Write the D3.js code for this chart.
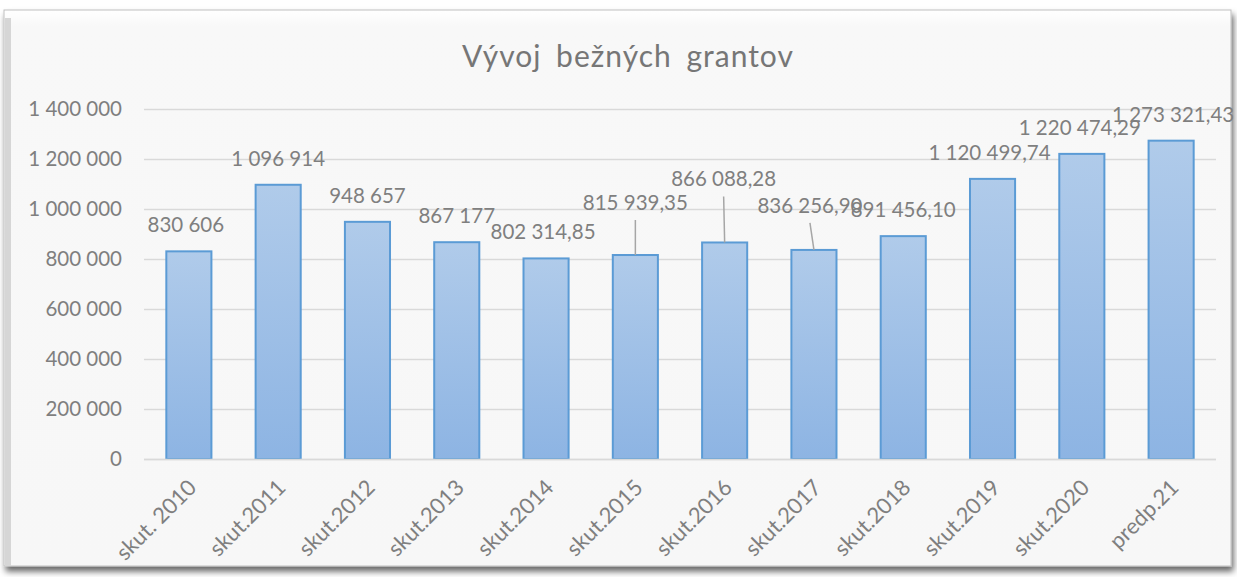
<!DOCTYPE html>
<html>
<head>
<meta charset="utf-8">
<script src="https://cdn.jsdelivr.net/npm/d3@7"></script>
<style>
  html, body { margin: 0; padding: 0; background: #ffffff; }
  svg { display: block; }
  text { font-family: Lato, "Liberation Sans", sans-serif; }
</style>
</head>
<body>
<div id="chart"></div>
<script>
// chart data
const title = "Vývoj bežných grantov";
const categories = ["skut. 2010", "skut.2011", "skut.2012", "skut.2013", "skut.2014", "skut.2015",
    "skut.2016", "skut.2017", "skut.2018", "skut.2019", "skut.2020", "predp.21"];
const values = [830606, 1096914, 948657, 867177, 802314.85, 815939.35,
    866088.28, 836256.90, 891456.10, 1120499.74, 1220474.29, 1273321.43];
const decimals = [0, 0, 0, 0, 2, 2, 2, 2, 2, 2, 2, 2];
const yTicks = [0, 200000, 400000, 600000, 800000, 1000000, 1200000, 1400000];

// label nudges (pixels) for the labels Excel moved by hand
const labelDy = [0, 0, 0, 0, 0, -26, -37, -18, 0, 0, 0, 0];
const labelDx = [-3, 0, 0, 0, -3, 0, -1, -4, 0, -3, -2, 2];

const W = 1237, H = 577;
const margin = {top: 109, right: 21, bottom: 118, left: 144};
const width = W - margin.left - margin.right,
    height = H - margin.top - margin.bottom;

const sk = d3.formatLocale({decimal: ",", thousands: "\u00a0", grouping: [3], currency: ["", " €"]});

const svg = d3.select("#chart")
    .append("svg")
    .attr("width", W)
    .attr("height", H);

const defs = svg.append("defs");
const grad = defs.append("linearGradient")
    .attr("id", "barFill")
    .attr("x1", 0).attr("y1", 0).attr("x2", 0).attr("y2", 1);
grad.append("stop").attr("offset", "0%").attr("stop-color", "#b0cbea");
grad.append("stop").attr("offset", "100%").attr("stop-color", "#8db4e3");

const bg = defs.append("linearGradient")
    .attr("id", "bgFill")
    .attr("x1", 0).attr("y1", 0).attr("x2", 0).attr("y2", 1);
bg.append("stop").attr("offset", "0%").attr("stop-color", "#ffffff");
bg.append("stop").attr("offset", "3%").attr("stop-color", "#f8f8f8");
bg.append("stop").attr("offset", "100%").attr("stop-color", "#f7f7f7");

const shadow = defs.append("filter").attr("id", "shadow")
    .attr("x", "-2%").attr("y", "-2%").attr("width", "104%").attr("height", "106%");
shadow.append("feDropShadow")
    .attr("dx", 2).attr("dy", 5).attr("stdDeviation", 3)
    .attr("flood-color", "#000").attr("flood-opacity", 0.6);

// chart frame
svg.append("rect")
    .attr("x", 4).attr("y", 10)
    .attr("width", 1227).attr("height", 556)
    .attr("fill", "url(#bgFill)")
    .attr("stroke", "#bfbfbf")
    .attr("stroke-width", 1)
    .attr("filter", "url(#shadow)");
svg.append("rect")
    .attr("x", 5).attr("y", 18)
    .attr("width", 6).attr("height", 548)
    .attr("fill", "#d6d6d6");

const g = svg.append("g")
    .attr("transform", `translate(${margin.left},${margin.top})`);

const x = d3.scaleBand()
    .domain(categories)
    .range([0, width])
    .paddingInner(0.495)
    .paddingOuter(0.25);

const y = d3.scaleLinear()
    .domain([0, 1400000])
    .range([height, 0]);

// gridlines
g.selectAll(".grid")
    .data(yTicks)
    .join("line")
    .attr("x1", 0).attr("x2", width)
    .attr("y1", d => Math.round(y(d)) + 0.5)
    .attr("y2", d => Math.round(y(d)) + 0.5)
    .attr("stroke", "#d9d9d9")
    .attr("stroke-width", 1.5);

// y axis labels
const yAxis = g.append("g")
    .call(d3.axisLeft(y).tickValues(yTicks).tickSize(0).tickPadding(22)
        .tickFormat(d => sk.format(",.0f")(d)));
yAxis.select(".domain").remove();
yAxis.selectAll("text")
    .attr("fill", "#7f7f7f")
    .style("font-size", "20.5px")
    .style("font-family", "Lato, sans-serif");

// bars
g.selectAll(".bar")
    .data(values)
    .join("rect")
    .attr("class", "bar")
    .attr("x", (d, i) => x(categories[i]))
    .attr("y", d => y(d))
    .attr("width", x.bandwidth())
    .attr("height", d => height - y(d))
    .attr("fill", "url(#barFill)")
    .attr("stroke", "#5b9bd5")
    .attr("stroke-width", 2);

// x axis line
g.append("line")
    .attr("x1", 0).attr("x2", width)
    .attr("y1", height + 0.5).attr("y2", height + 0.5)
    .attr("stroke", "#d9d9d9")
    .attr("stroke-width", 1.5);

// x axis labels
g.selectAll(".xlab")
    .data(categories)
    .join("text")
    .attr("class", "xlab")
    .attr("transform", d => `translate(${x(d) + x.bandwidth() / 2 - 2},${height + 19}) rotate(-45)`)
    .attr("text-anchor", "end")
    .attr("dy", "0.7em")
    .attr("fill", "#7f7f7f")
    .style("font-size", "22px")
    .text(d => d);

// leader lines
g.selectAll(".leader")
    .data(values.map((v, i) => ({v, i})).filter(d => labelDy[d.i] < 0))
    .join("line")
    .attr("x1", d => x(categories[d.i]) + x.bandwidth() / 2 + labelDx[d.i])
    .attr("x2", d => x(categories[d.i]) + x.bandwidth() / 2)
    .attr("y1", d => y(d.v) - 19 + labelDy[d.i] + 10)
    .attr("y2", d => y(d.v))
    .attr("stroke", "#a6a6a6")
    .attr("stroke-width", 1.5);

// data labels
g.selectAll(".vlab")
    .data(values)
    .join("text")
    .attr("class", "vlab")
    .attr("x", (d, i) => x(categories[i]) + x.bandwidth() / 2 + labelDx[i])
    .attr("y", (d, i) => y(d) - 19 + labelDy[i])
    .attr("text-anchor", "middle")
    .attr("fill", "#7f7f7f")
    .style("font-size", "20.5px")
    .text((d, i) => sk.format(`,.${decimals[i]}f`)(d));

// title
svg.append("text")
    .attr("x", 628).attr("y", 67)
    .attr("text-anchor", "middle")
    .attr("fill", "#767676")
    .style("font-size", "30px")
    .style("letter-spacing", "1px")
    .style("word-spacing", "6px")
    .text(title);
</script>
</body>
</html>
